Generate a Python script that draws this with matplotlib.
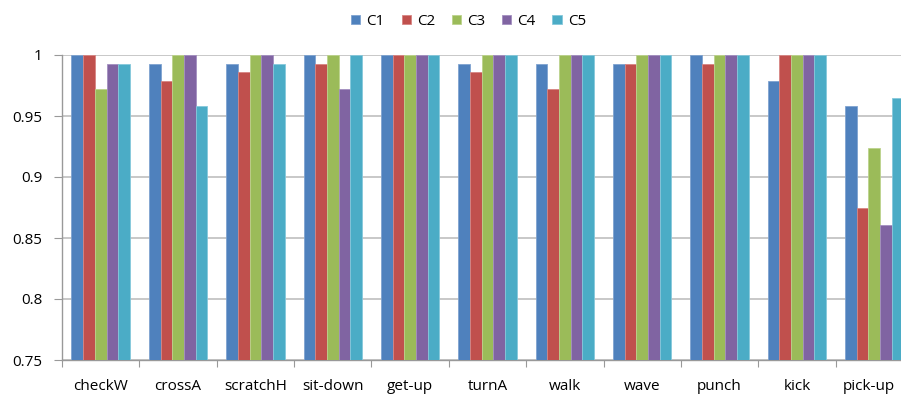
import matplotlib.pyplot as plt
import matplotlib.transforms as mtransforms
import numpy as np

categories = ["checkW", "crossA", "scratchH", "sit-down", "get-up", "turnA",
              "walk", "wave", "punch", "kick", "pick-up"]
series = ["C1", "C2", "C3", "C4", "C5"]

c1 = [1.0, 0.993, 0.993, 1.0, 1.0, 0.993, 0.993, 0.993, 1.0, 0.979, 0.958]
c2 = [1.0, 0.979, 0.986, 0.993, 1.0, 0.986, 0.972, 0.993, 0.993, 1.0, 0.875]
c3 = [0.972, 1.0, 1.0, 1.0, 1.0, 1.0, 1.0, 1.0, 1.0, 1.0, 0.924]
c4 = [0.993, 1.0, 1.0, 0.972, 1.0, 1.0, 1.0, 1.0, 1.0, 1.0, 0.861]
c5 = [0.993, 0.958, 0.993, 1.0, 1.0, 1.0, 1.0, 1.0, 1.0, 1.0, 0.965]

colors = ["#4F81BD", "#C0504D", "#9BBB59", "#8064A2", "#4BACC6"]
edges = ["#7fa3d0", "#d78583", "#bcd38c", "#a38fc0", "#86c8db"]

plt.rcParams['font.family'] = ['Open Sans', 'DejaVu Sans']

fig = plt.figure(figsize=(9.01, 3.97), dpi=100)
ax = fig.add_axes([62 / 901, 37 / 397, 851 / 901, 305 / 397])

x = np.arange(len(categories))
w = 0.151
for j, vals in enumerate([c1, c2, c3, c4, c5]):
    ax.bar(x + (j - 2) * w, vals, w, color=colors[j], edgecolor=edges[j],
           linewidth=0.6, label=series[j], zorder=3)

ax.set_ylim(0.75, 1.0)
ax.set_xlim(-0.5, len(categories) - 0.5)
ax.set_yticks([0.75, 0.8, 0.85, 0.9, 0.95, 1.0])
ax.set_yticklabels(["0.75", "0.8", "0.85", "0.9", "0.95", "1"], fontsize=11)
ax.yaxis.grid(True, color="#bfbfbf", linewidth=1.2, zorder=0)

ax.set_xticks(np.arange(len(categories) + 1) - 0.5)
ax.set_xticklabels([])
ax.set_xticks(x, minor=True)
ax.set_xticklabels(categories, minor=True, fontsize=11)
ax.tick_params(axis="x", which="minor", length=0, pad=14)
ax.tick_params(axis="x", which="major", length=5, color="#999999", direction="out")
ax.tick_params(axis="y", length=6, color="#999999", pad=8)

# nudge last label left so it stays inside the figure
last = ax.xaxis.get_minor_ticks()[-1].label1
last.set_transform(last.get_transform() +
                   mtransforms.ScaledTranslation(-6 / 100, 0, fig.dpi_scale_trans))

for s in ["top", "right"]:
    ax.spines[s].set_visible(False)
for s in ["left", "bottom"]:
    ax.spines[s].set_color("#999999")
    ax.spines[s].set_linewidth(1.0)

fig.legend(loc="upper center", bbox_to_anchor=(0.52, 1.0), ncol=5, frameon=False,
           fontsize=11, handlelength=0.6, handleheight=0.6, handletextpad=0.4,
           columnspacing=1.1)

plt.savefig("out.png")
